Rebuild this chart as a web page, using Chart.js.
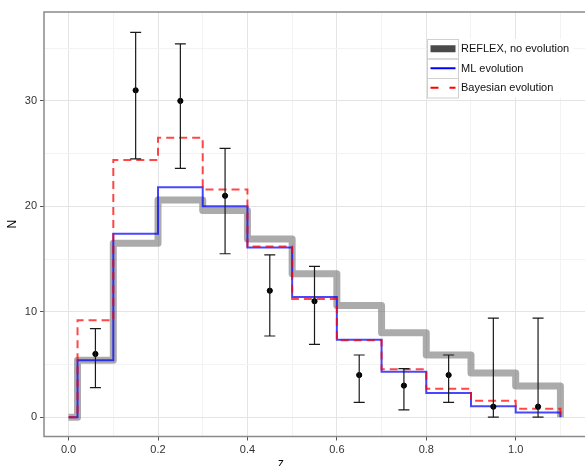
<!DOCTYPE html>
<html>
<head>
<meta charset="utf-8">
<script src="https://cdn.jsdelivr.net/npm/chart.js@4.4.0/dist/chart.umd.min.js"></script>
<style>
  html, body { margin: 0; padding: 0; background: #fff; overflow: hidden; }
  #wrap { width: 585px; height: 466px; }
</style>
</head>
<body>
<div id="wrap"><canvas id="zChart"></canvas></div>
<script>
// histogram bin edges (step value holds until the next edge)
const binEdges = [0, 0.02, 0.1, 0.2, 0.3, 0.4, 0.5, 0.6, 0.7, 0.8, 0.9, 1.0, 1.1];
const reflexCounts = [0, 5.4, 16.5, 20.6, 19.6, 16.9, 13.6, 10.6, 8.0, 5.9, 4.2, 2.95, 0];
const mlCounts = [0, 5.4, 17.4, 21.8, 20.0, 16.1, 11.4, 7.35, 4.3, 2.3, 1.05, 0.45, 0];
const bayesCounts = [0, 9.2, 24.4, 26.5, 21.6, 16.2, 11.2, 7.3, 4.55, 2.7, 1.55, 0.8, 0];

// observed counts with error bars
const obsZ = [0.06, 0.15, 0.25, 0.35, 0.45, 0.55, 0.65, 0.75, 0.85, 0.95, 1.05];
const obsN = [6, 31, 30, 21, 12, 11, 4, 3, 4, 1, 1];
const obsLow = [2.8, 24.5, 23.6, 15.5, 7.7, 6.9, 1.4, 0.7, 1.4, 0, 0];
const obsHigh = [8.4, 36.5, 35.4, 25.5, 15.4, 14.3, 5.9, 4.6, 5.9, 9.4, 9.4];

const xTicks = [0, 0.1, 0.2, 0.3, 0.4, 0.5, 0.6, 0.7, 0.8, 0.9, 1.0, 1.1];
const yTicks = [0, 5, 10, 15, 20, 25, 30, 35];
const xLabels = ['0.0', '', '0.2', '', '0.4', '', '0.6', '', '0.8', '', '1.0', ''];
const yLabels = ['0', '', '10', '', '20', '', '30', ''];

const legendLabels = ['REFLEX, no evolution', 'ML evolution', 'Bayesian evolution'];

const toPoints = (vals) => binEdges.map((x, i) => ({ x: x, y: vals[i] }));

const errorBars = {
    id: 'errorBars',
    afterDatasetsDraw(chart) {
        const { ctx, scales: { x, y } } = chart;
        ctx.save();
        ctx.strokeStyle = '#1a1a1a';
        ctx.lineWidth = 1.2;
        obsZ.forEach((z, i) => {
            const px = x.getPixelForValue(z);
            const top = y.getPixelForValue(obsHigh[i]);
            const bot = y.getPixelForValue(obsLow[i]);
            ctx.beginPath();
            ctx.moveTo(px, top); ctx.lineTo(px, bot);
            ctx.moveTo(px - 5.5, top); ctx.lineTo(px + 5.5, top);
            ctx.moveTo(px - 5.5, bot); ctx.lineTo(px + 5.5, bot);
            ctx.stroke();
        });
        // panel border
        const a = chart.chartArea;
        ctx.strokeStyle = '#8a8a8a';
        ctx.lineWidth = 1.5;
        ctx.strokeRect(a.left, a.top, a.right - a.left + 4, a.bottom - a.top);
        ctx.restore();
    }
};

const decorations = {
    id: 'decorations',
    afterDraw(chart) {
        const ctx = chart.ctx;
        const a = chart.chartArea;
        ctx.save();
        // axis titles
        ctx.fillStyle = '#000';
        ctx.font = '12px "Liberation Sans", Arial, sans-serif';
        ctx.textAlign = 'center';
        ctx.textBaseline = 'middle';
        ctx.save();
        ctx.translate(13, (a.top + a.bottom) / 2);
        ctx.rotate(-Math.PI / 2);
        ctx.fillText('N', 0, 0);
        ctx.restore();
        ctx.textBaseline = 'top';
        ctx.fillText('z', 281, 458);

        // legend
        const kx = 427, kw = 31, kh = 19.5, ky = 39;
        ctx.fillStyle = '#fff';
        ctx.fillRect(kx, ky, 146, kh * 3);
        legendLabels.forEach((label, i) => {
            const top = ky + i * kh;
            const cy = top + kh / 2;
            ctx.strokeStyle = '#d0d0d0';
            ctx.lineWidth = 1;
            ctx.setLineDash([]);
            ctx.strokeRect(kx + 0.5, top + 0.5, kw, kh);
            ctx.beginPath();
            ctx.moveTo(kx + 3.5, cy);
            ctx.lineTo(kx + kw - 2.5, cy);
            if (i === 0) {
                ctx.strokeStyle = '#4a4a4a';
                ctx.lineWidth = 7;
            } else if (i === 1) {
                ctx.strokeStyle = '#0000ff';
                ctx.lineWidth = 2;
            } else {
                ctx.strokeStyle = '#ff0000';
                ctx.lineWidth = 2;
                ctx.setLineDash([8, 11]);
            }
            ctx.stroke();
            ctx.setLineDash([]);
            ctx.fillStyle = '#111';
            ctx.font = '11px "Liberation Sans", Arial, sans-serif';
            ctx.textAlign = 'left';
            ctx.textBaseline = 'middle';
            ctx.fillText(label, kx + kw + 3, cy + 0.5);
        });
        ctx.restore();
    }
};

const ctx = document.getElementById('zChart').getContext('2d');

new Chart(ctx, {
    type: 'line',
    data: {
        datasets: [
            {
                type: 'scatter',
                data: obsZ.map((z, i) => ({ x: z, y: obsN[i] })),
                backgroundColor: '#000',
                borderColor: '#000',
                pointRadius: 2.6,
                showLine: false,
                order: 0
            },
            {
                data: toPoints(bayesCounts),
                stepped: 'before',
                borderColor: 'rgba(255,0,0,0.72)',
                borderWidth: 2,
                borderDash: [8, 5],
                pointRadius: 0,
                fill: false,
                order: 1
            },
            {
                data: toPoints(mlCounts),
                stepped: 'before',
                borderColor: 'rgba(0,0,255,0.72)',
                borderWidth: 2,
                pointRadius: 0,
                fill: false,
                order: 2
            },
            {
                data: toPoints(reflexCounts),
                stepped: 'before',
                borderColor: 'rgba(115,115,115,0.6)',
                borderWidth: 7,
                borderJoinStyle: 'round',
                pointRadius: 0,
                fill: false,
                order: 3
            }
        ]
    },
    options: {
        responsive: true,
        maintainAspectRatio: false,
        animation: false,
        layout: { autoPadding: false, padding: { top: 12, right: 0, left: 0, bottom: 0 } },
        plugins: {
            legend: { display: false },
            tooltip: { enabled: false }
        },
        scales: {
            x: {
                type: 'linear',
                min: -0.055,
                max: 1.155,
                afterBuildTicks: (scale) => { scale.ticks = xTicks.map(v => ({ value: v })); },
                afterFit: (scale) => {
                    scale.height = 29.5;
                    scale.paddingLeft = 0;
                    scale.paddingRight = 0;
                },
                border: { display: false },
                grid: {
                    color: (c) => (c.index % 2 === 0 ? '#e4e4e4' : '#f3f3f3'),
                    tickColor: (c) => (c.index % 2 === 0 ? '#555' : 'rgba(0,0,0,0)'),
                    tickLength: 4,
                    lineWidth: 1
                },
                ticks: {
                    autoSkip: false,
                    maxRotation: 0,
                    padding: 3,
                    color: '#333',
                    font: { family: '"Liberation Sans", Arial, sans-serif', size: 11 },
                    callback: (v, i) => xLabels[i]
                }
            },
            y: {
                type: 'linear',
                min: -1.83,
                max: 38.43,
                afterBuildTicks: (scale) => { scale.ticks = yTicks.map(v => ({ value: v })); },
                afterFit: (scale) => { scale.width = 44; },
                border: { display: false },
                grid: {
                    color: (c) => (c.index % 2 === 0 ? '#e4e4e4' : '#f3f3f3'),
                    tickColor: (c) => (c.index % 2 === 0 ? '#555' : 'rgba(0,0,0,0)'),
                    tickLength: 4,
                    lineWidth: 1
                },
                ticks: {
                    padding: 3,
                    color: '#333',
                    font: { family: '"Liberation Sans", Arial, sans-serif', size: 11 },
                    callback: (v, i) => yLabels[i]
                }
            }
        }
    },
    plugins: [errorBars, decorations]
});
</script>
</body>
</html>
